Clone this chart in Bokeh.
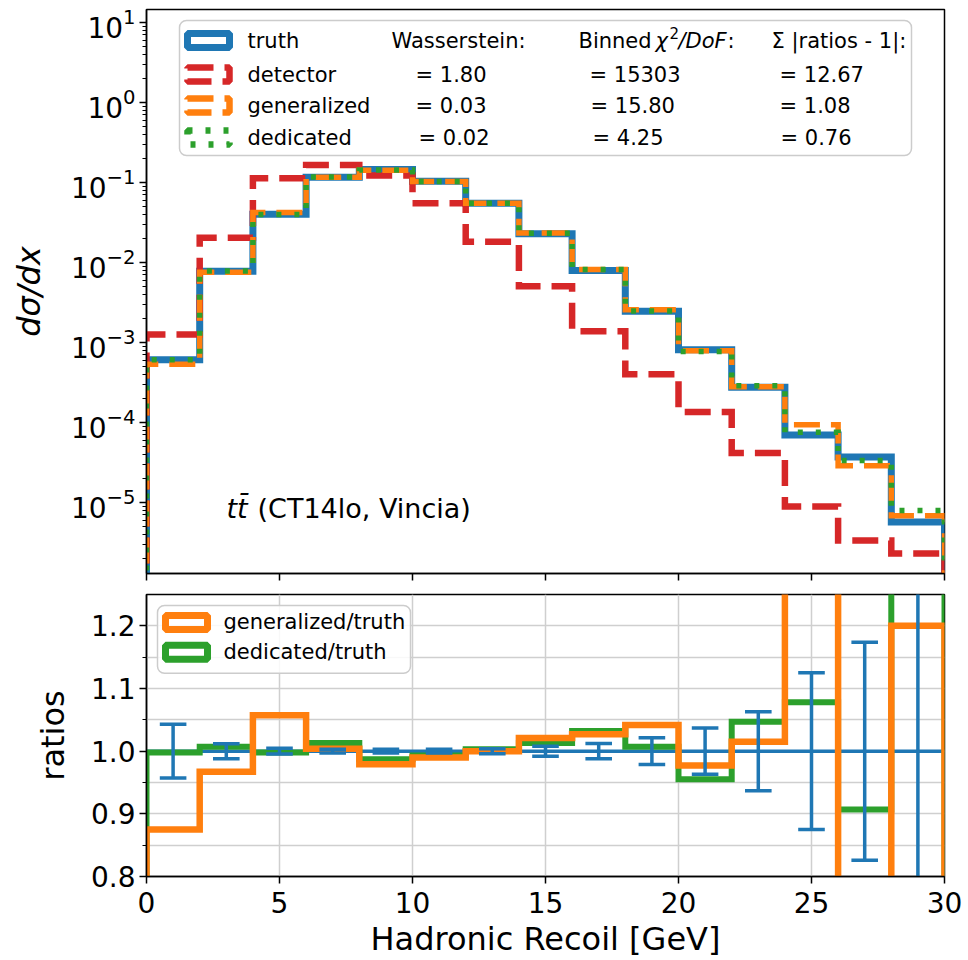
import numpy as np
from bokeh.plotting import figure
from bokeh.layouts import column
from bokeh.models import Range1d, FixedTicker, PrintfTickFormatter, Label, BoxAnnotation
from bokeh.embed import file_html
from bokeh.resources import INLINE

# ---------------- data: hadronic recoil spectra (2 GeV bins) ----------------
bin_edges = [0, 2, 4, 6, 8, 10, 12, 14, 16, 18, 20, 22, 24, 26, 28, 30]
bin_centers = [1, 3, 5, 7, 9, 11, 13, 15, 17, 19, 21, 23, 25, 27, 29]

truth = [6.10e-4, 7.80e-3, 4.00e-2, 0.1160, 0.1450, 0.1040, 5.50e-2, 2.29e-2,
         7.94e-3, 2.46e-3, 8.10e-4, 2.75e-4, 7.00e-5, 3.70e-5, 5.70e-6]
detector = [1.26e-3, 2.04e-2, 0.113, 0.166, 0.122, 5.50e-2, 1.82e-2, 5.05e-3,
            1.38e-3, 4.00e-4, 1.35e-4, 4.17e-5, 8.90e-6, 3.35e-6, 2.30e-6]
generalized = [5.338e-4, 7.543e-3, 4.230e-2, 0.11646, 0.14196, 0.10296, 5.500e-2, 2.338e-2,
               8.154e-3, 2.563e-3, 7.914e-4, 2.791e-4, 9.380e-5, 2.886e-5, 6.840e-6]
dedicated = [6.088e-4, 7.855e-3, 3.992e-2, 0.11751, 0.14312, 0.10327, 5.517e-2, 2.320e-2,
             8.194e-3, 2.477e-3, 7.736e-4, 2.879e-4, 7.546e-5, 3.356e-5, 7.920e-6]
# relative statistical uncertainty of the truth histogram
truth_rel_err = [0.043, 0.012, 0.0045, 0.003, 0.003, 0.003, 0.004, 0.008,
                 0.0123, 0.0213, 0.037, 0.063, 0.125, 0.174, 0.35]

# closure metrics shown in the legend
sample_names = ["detector", "generalized", "dedicated"]
wasserstein = ["1.80", "0.03", "0.02"]
binned_chi2 = ["15303", "15.80", "4.25"]
ratio_dev = ["12.67", "1.08", "0.76"]

x_ticks = [0, 5, 10, 15, 20, 25, 30]
log_ticks = [1e-5, 1e-4, 1e-3, 1e-2, 1e-1, 1e0, 1e1]
ratio_ticks = [0.8, 0.9, 1.0, 1.1, 1.2]
ratio_minor = [0.85, 0.95, 1.05, 1.15]

BLUE, ORANGE, GREEN, RED = "#1f77b4", "#ff7f0e", "#2ca02c", "#d62728"
FONT = "DejaVu Sans"
LEG_SIZE = "21px"

# ---------------- layout geometry ----------------
WIDTH = 968
BORDER_L, BORDER_R = 146, 24
FW = WIDTH - BORDER_L - BORDER_R       # frame width in px
H1, H2 = 564, 283                      # frame heights in px
LOG_LO, LOG_HI = -5.8875, 1.1625
R_LO, R_HI = 0.8, 1.25


def top_pt(px, py):
    """Pixel offset from the upper frame's top-left corner -> data coordinates."""
    return 30.0 * px / FW, 10 ** (LOG_HI - (LOG_HI - LOG_LO) * py / H1)


def bot_pt(px, py):
    """Pixel offset from the lower frame's top-left corner -> data coordinates."""
    return 30.0 * px / FW, R_HI - (R_HI - R_LO) * py / H2


def step_path(edges, vals, floor):
    xs, ys = [edges[0]], [floor]
    for i, v in enumerate(vals):
        xs += [edges[i], edges[i + 1]]
        ys += [v, v]
    xs.append(edges[-1])
    ys.append(floor)
    return xs, ys


def style_axes(p):
    p.background_fill_color = "white"
    p.border_fill_color = "white"
    p.outline_line_color = "black"
    p.outline_line_width = 1.5
    for ax in (p.xaxis[0], p.yaxis[0]):
        ax.axis_line_color = "black"
        ax.axis_line_width = 1.5
        ax.major_tick_line_color = "black"
        ax.major_tick_line_width = 1.5
        ax.major_tick_out = 7
        ax.major_tick_in = 0
        ax.minor_tick_line_color = "black"
        ax.minor_tick_line_width = 1.2
        ax.minor_tick_out = 4
        ax.minor_tick_in = 0
        ax.major_label_text_font = FONT
        ax.major_label_text_font_size = "28px"
        ax.major_label_text_color = "black"
        ax.axis_label_text_font = FONT
        ax.axis_label_text_font_size = "32px"
        ax.axis_label_text_color = "black"
        ax.axis_label_text_font_style = "normal"


def add_text(p, pt, text, size=LEG_SIZE, style="normal", align="left", baseline="middle"):
    p.add_layout(Label(x=pt[0], y=pt[1], text=text, text_font=FONT,
                       text_font_size=size, text_font_style=style,
                       text_color="black", text_align=align, text_baseline=baseline))


def add_box(p, pt0, pt1, color, width, dash=None, fill=None):
    kw = dict(left=pt0[0], right=pt1[0], top=pt0[1], bottom=pt1[1],
              line_color=color, line_width=width, line_alpha=1.0)
    if fill:
        kw.update(fill_color=fill, fill_alpha=0.85, border_radius=7)
    else:
        kw.update(fill_alpha=0)
    if dash:
        kw["line_dash"] = dash
    p.add_layout(BoxAnnotation(**kw))


# ---------------- upper panel: spectra ----------------
x_range = Range1d(0, 30)
p1 = figure(width=WIDTH, height=590, y_axis_type="log",
            x_range=x_range, y_range=Range1d(10 ** LOG_LO, 10 ** LOG_HI),
            output_backend="svg", toolbar_location=None,
            min_border_left=BORDER_L, min_border_right=BORDER_R,
            min_border_top=9, min_border_bottom=17)
style_axes(p1)
p1.grid.visible = False
p1.xaxis.ticker = FixedTicker(ticks=x_ticks)
# shared x axis: tick marks only, the labels live on the ratio panel
p1.xaxis.major_label_text_color = None
p1.xaxis.major_label_text_font_size = "8px"
p1.xaxis.major_label_standoff = 0
p1.xaxis.minor_tick_line_color = None
minor_log = [k * 10.0 ** n for n in range(-7, 2) for k in range(2, 10)]
p1.yaxis.ticker = FixedTicker(ticks=log_ticks, minor_ticks=minor_log)
p1.yaxis.axis_label = "dσ/dx"
p1.yaxis.axis_label_text_font_style = "italic"
p1.yaxis.major_label_standoff = 4
p1.yaxis.axis_label_standoff = 20

floor = 1e-9
xs, ys = step_path(bin_edges, truth, floor)
p1.line(xs, ys, line_color=BLUE, line_width=7, line_join="miter")
xs, ys = step_path(bin_edges, detector, floor)
p1.line(xs, ys, line_color=RED, line_width=6.5, line_dash="26 11", line_join="miter")
xs, ys = step_path(bin_edges, generalized, floor)
p1.line(xs, ys, line_color=ORANGE, line_width=5.5, line_dash="26 11", line_join="miter")
xs, ys = step_path(bin_edges, dedicated, floor)
p1.line(xs, ys, line_color=GREEN, line_width=5.5, line_dash="5 13", line_join="miter")

# legend with closure metrics
add_box(p1, top_pt(33, 11), top_pt(765, 146), "#cccccc", 1.5, fill="white")

row_y = [31, 65, 96, 128]
handles = [(BLUE, None, 7), (RED, "26 11", 6.5), (ORANGE, "26 11", 6.5), (GREEN, "5 13", 6.5)]
for (col, dash, lw), ry in zip(handles, row_y):
    add_box(p1, top_pt(41, ry - 7), top_pt(83, ry + 7), col, lw, dash=dash)

add_text(p1, top_pt(101, row_y[0]), "truth")
for name, ry in zip(sample_names, row_y[1:]):
    add_text(p1, top_pt(101, ry), name)

add_text(p1, top_pt(245, row_y[0]), "Wasserstein:")
add_text(p1, top_pt(432, row_y[0]), "Binned")
add_text(p1, top_pt(509, row_y[0]), "χ", style="italic")
add_text(p1, top_pt(523, row_y[0] - 8), "2", size="15px")
add_text(p1, top_pt(532, row_y[0]), "/DoF", style="italic")
add_text(p1, top_pt(581, row_y[0]), ":")
add_text(p1, top_pt(625, row_y[0]), "Σ |ratios - 1|:")

w_x = [269, 269, 272]
c_x = [443, 444, 446]
r_x = [633, 633, 634]
for i, ry in enumerate(row_y[1:]):
    add_text(p1, top_pt(w_x[i], ry), "= " + wasserstein[i])
    add_text(p1, top_pt(c_x[i], ry), "= " + binned_chi2[i])
    add_text(p1, top_pt(r_x[i], ry), "= " + ratio_dev[i])

add_text(p1, top_pt(80, 499), "tt\u0304", size="27px", style="italic")
add_text(p1, top_pt(111, 499), "(CT14lo, Vincia)", size="27px")

# ---------------- lower panel: ratios ----------------
p2 = figure(width=WIDTH, height=370, x_range=x_range, y_range=Range1d(R_LO, R_HI),
            output_backend="svg", toolbar_location=None,
            min_border_left=BORDER_L, min_border_right=BORDER_R,
            min_border_top=4, min_border_bottom=83)
style_axes(p2)
p2.xaxis.ticker = FixedTicker(ticks=x_ticks)
p2.xaxis.minor_tick_line_color = None
p2.xaxis.axis_label = "Hadronic Recoil [GeV]"
p2.xaxis.major_label_standoff = 8
p2.xaxis.axis_label_standoff = 4
p2.yaxis.ticker = FixedTicker(ticks=ratio_ticks, minor_ticks=ratio_minor)
p2.yaxis.formatter = PrintfTickFormatter(format="%.1f")
p2.yaxis.axis_label = "ratios"
p2.yaxis.major_label_standoff = 4
p2.yaxis.axis_label_standoff = 16
for g in (p2.xgrid[0], p2.ygrid[0]):
    g.grid_line_color = "#cfcfcf"
    g.grid_line_width = 1.5
p2.ygrid[0].minor_grid_line_color = "#cfcfcf"
p2.ygrid[0].minor_grid_line_width = 1.5

truth_ratio = [t / t for t in truth]
gen_ratio = [g / t for g, t in zip(generalized, truth)]
ded_ratio = [d / t for d, t in zip(dedicated, truth)]

xs, ys = step_path(bin_edges, truth_ratio, 0)
p2.line(xs, ys, line_color=BLUE, line_width=3.5, line_join="miter")
xs, ys = step_path(bin_edges, ded_ratio, 0)
p2.line(xs, ys, line_color=GREEN, line_width=6, line_join="miter")
xs, ys = step_path(bin_edges, gen_ratio, 0)
p2.line(xs, ys, line_color=ORANGE, line_width=6.5, line_join="miter")

lo = [1 - e for e in truth_rel_err]
hi = [1 + e for e in truth_rel_err]
p2.segment(x0=bin_centers, x1=bin_centers, y0=lo, y1=hi, line_color=BLUE, line_width=3.5)
cap_l = [c - 0.5 for c in bin_centers]
cap_r = [c + 0.5 for c in bin_centers]
p2.segment(x0=cap_l, x1=cap_r, y0=lo, y1=lo, line_color=BLUE, line_width=3.5)
p2.segment(x0=cap_l, x1=cap_r, y0=hi, y1=hi, line_color=BLUE, line_width=3.5)

add_box(p2, bot_pt(11, 11), bot_pt(264, 79), "#cccccc", 1.5, fill="white")
for col, ry, txt in [(ORANGE, 28, "generalized/truth"), (GREEN, 58, "dedicated/truth")]:
    add_box(p2, bot_pt(19, ry - 7), bot_pt(61, ry + 7), col, 7)
    add_text(p2, bot_pt(77, ry), txt)

layout = column(p1, p2, spacing=0)
open("out.html", "w").write(file_html(layout, INLINE))
